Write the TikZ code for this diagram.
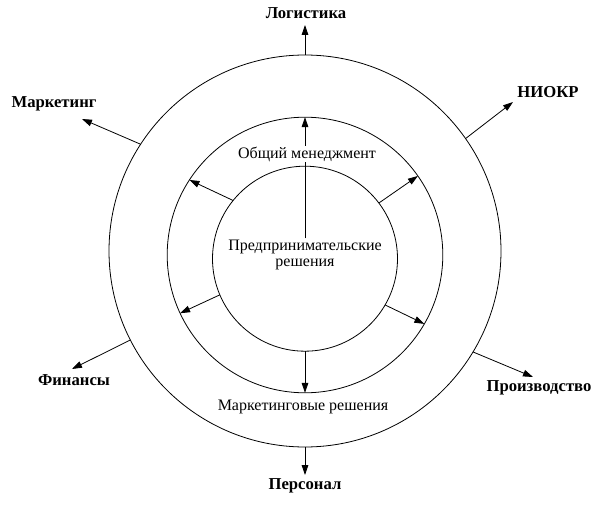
\documentclass[tikz,border=0pt]{standalone}
\usepackage{fontspec}
\setmainfont{Liberation Serif}
\usetikzlibrary{arrows.meta}
\begin{document}
\begin{tikzpicture}[x=0.75pt,y=-0.75pt,
  ring/.style={draw,circle,inner sep=0pt,outer sep=0pt,line width=0.6pt},
  arr/.style={line width=0.6pt,-{Triangle[length=7.5pt,width=5pt]}},
  outlbl/.style={font=\bfseries\fontsize{12.5pt}{14pt}\selectfont,inner sep=0pt},
  inlbl/.style={font=\fontsize{12pt}{14pt}\selectfont,inner sep=1pt,align=center}]
\useasboundingbox (0,0) rectangle (601,510);
\node[ring,minimum size=294pt] (outer) at (305,251) {};
\node[ring,minimum size=206.7pt] (middle) at (305,255) {};
\node[ring,minimum size=138.75pt] (inner) at (305,258.7) {};
% centre text
\node[inlbl] (pred) at (305,255) {Предпринимательские\\[-2pt]решения};
% inner arrows
\draw[arr] (pred.north) -- (middle.90);
\draw[arr] (inner.270) -- (middle.270);
\draw[arr] (inner.141.4) -- (middle.147);
\draw[arr] (inner.37.4) -- (middle.35.3);
\draw[arr] (inner.203) -- (middle.205);
\draw[arr] (inner.330.2) -- (middle.330.5);
\node[inlbl,fill=white,inner sep=0.5pt] (obsh) at (307,154) {Общий менеджмент};
\node[inlbl] (mres) at (303,407) {Маркетинговые решения};
% outer labels
\node[outlbl] (log) at (306,13) {Логистика};
\node[outlbl] (niokr) at (548,92) {НИОКР};
\node[outlbl] (mark) at (54,104) {Маркетинг};
\node[outlbl] (fin) at (74,380) {Финансы};
\node[outlbl] (proiz) at (539,388) {Производство};
\node[outlbl] (pers) at (305,486) {Персонал};
% tips
\coordinate (tlog) at (305,25);
\coordinate (tniokr) at (513,102);
\coordinate (tmark) at (82,119);
\coordinate (tfin) at (72,369);
\coordinate (tproiz) at (533,377);
\coordinate (tpers) at (305,475);
% outer arrows
\draw[arr] (outer.90) -- (tlog);
\draw[arr] (outer.35.3) -- (tniokr);
\draw[arr] (outer.147.8) -- (tmark);
\draw[arr] (outer.207) -- (tfin);
\draw[arr] (outer.329.8) -- (tproiz);
\draw[arr] (outer.270) -- (tpers);
\end{tikzpicture}
\end{document}
